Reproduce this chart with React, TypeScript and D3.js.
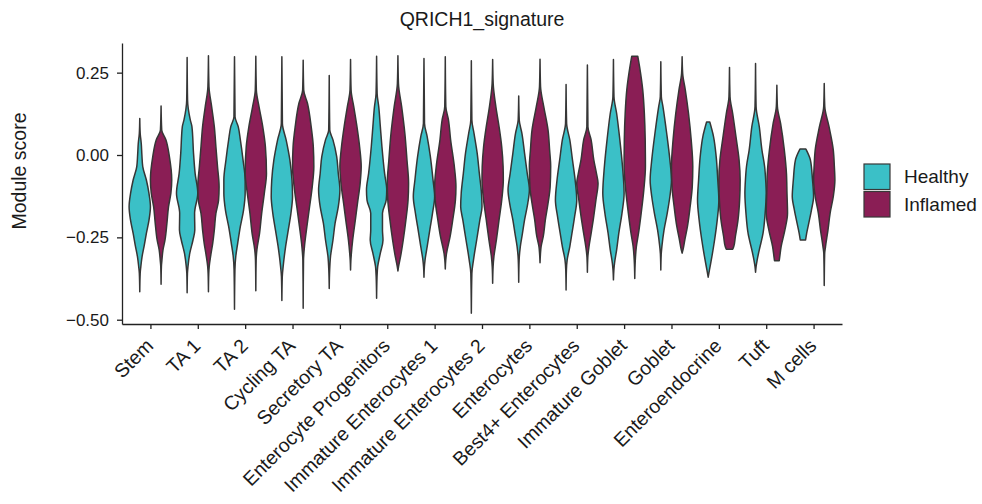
import React, { useEffect, useRef } from 'react';
import * as d3 from 'd3';

const categories = [
  'Stem', 'TA 1', 'TA 2', 'Cycling TA', 'Secretory TA', 'Enterocyte Progenitors',
  'Immature Enterocytes 1', 'Immature Enterocytes 2', 'Enterocytes', 'Best4+ Enterocytes',
  'Immature Goblet', 'Goblet', 'Enteroendocrine', 'Tuft', 'M cells',
];
const groups = ['Healthy', 'Inflamed'];
const groupColors = ['#3bc0c7', '#8a1e55'];
const yTicks = [0.25, 0, -0.25, -0.5];

// violin outlines: [module score, relative width], top to bottom
const healthy: [number, number][][] = [
  [[0.111, 0], [0.066, 0.04], [0.035, 0.14], [0.0, 0.2], [-0.035, 0.28], [-0.076, 0.62], [-0.116, 0.86], [-0.157, 1], [-0.197, 0.87], [-0.238, 0.62], [-0.278, 0.4], [-0.308, 0.22], [-0.339, 0.1], [-0.359, 0.04], [-0.415, 0]],
  [[0.296, 0], [0.167, 0.04], [0.106, 0.3], [0.086, 0.45], [0.005, 0.6], [-0.056, 0.75], [-0.116, 1], [-0.177, 0.7], [-0.228, 0.72], [-0.258, 0.55], [-0.298, 0.25], [-0.339, 0.08], [-0.359, 0.03], [-0.418, 0]],
  [[0.298, 0], [0.116, 0.05], [0.086, 0.35], [0.046, 0.55], [-0.015, 0.8], [-0.076, 1], [-0.116, 1], [-0.167, 0.85], [-0.217, 0.55], [-0.268, 0.3], [-0.308, 0.12], [-0.349, 0.04], [-0.468, 0]],
  [[0.298, 0], [0.096, 0.05], [0.046, 0.4], [-0.015, 0.75], [-0.076, 0.95], [-0.126, 1], [-0.177, 0.85], [-0.228, 0.6], [-0.278, 0.35], [-0.339, 0.12], [-0.369, 0.04], [-0.442, 0]],
  [[0.241, 0], [0.076, 0.05], [0.046, 0.35], [-0.005, 0.7], [-0.056, 0.85], [-0.106, 1], [-0.157, 0.85], [-0.207, 0.55], [-0.258, 0.35], [-0.308, 0.12], [-0.349, 0.04], [-0.405, 0]],
  [[0.3, 0], [0.187, 0.05], [0.147, 0.2], [0.086, 0.35], [0.025, 0.5], [-0.056, 0.75], [-0.106, 0.95], [-0.137, 0.9], [-0.177, 0.55], [-0.228, 0.55], [-0.258, 0.6], [-0.298, 0.35], [-0.339, 0.1], [-0.37, 0.04], [-0.435, 0]],
  [[0.293, 0], [0.096, 0.05], [0.056, 0.3], [-0.005, 0.6], [-0.076, 0.85], [-0.126, 1], [-0.177, 0.8], [-0.217, 0.6], [-0.278, 0.3], [-0.319, 0.1], [-0.339, 0.04], [-0.371, 0]],
  [[0.286, 0], [0.106, 0.05], [0.066, 0.25], [0.005, 0.55], [-0.056, 0.75], [-0.116, 0.95], [-0.157, 1], [-0.197, 0.8], [-0.258, 0.5], [-0.319, 0.2], [-0.359, 0.05], [-0.48, 0]],
  [[0.179, 0], [0.106, 0.05], [0.066, 0.3], [0.005, 0.55], [-0.056, 0.8], [-0.106, 1], [-0.147, 0.85], [-0.197, 0.55], [-0.238, 0.35], [-0.278, 0.15], [-0.319, 0.04], [-0.386, 0]],
  [[0.214, 0], [0.096, 0.05], [0.046, 0.35], [-0.015, 0.6], [-0.076, 0.85], [-0.137, 1], [-0.187, 0.8], [-0.238, 0.55], [-0.278, 0.35], [-0.319, 0.1], [-0.349, 0.03], [-0.41, 0]],
  [[0.29, 0], [0.177, 0.05], [0.126, 0.3], [0.046, 0.6], [-0.035, 0.85], [-0.116, 1], [-0.177, 0.8], [-0.238, 0.5], [-0.288, 0.3], [-0.329, 0.1], [-0.349, 0.04], [-0.379, 0]],
  [[0.283, 0], [0.177, 0.05], [0.147, 0.2], [0.066, 0.55], [-0.015, 0.85], [-0.076, 1], [-0.126, 0.85], [-0.177, 0.6], [-0.228, 0.3], [-0.278, 0.1], [-0.3, 0.04], [-0.349, 0]],
  [[0.1, 0.15], [0.056, 0.5], [-0.005, 0.75], [-0.076, 0.9], [-0.137, 1], [-0.197, 0.85], [-0.258, 0.6], [-0.308, 0.35], [-0.349, 0.12], [-0.371, 0]],
  [[0.278, 0], [0.147, 0.05], [0.086, 0.35], [0.015, 0.6], [-0.035, 0.85], [-0.076, 0.95], [-0.116, 1], [-0.177, 0.9], [-0.238, 0.7], [-0.288, 0.35], [-0.319, 0.15], [-0.339, 0.05], [-0.356, 0]],
  [[0.018, 0.28], [-0.015, 0.7], [-0.076, 0.9], [-0.126, 1], [-0.167, 0.8], [-0.207, 0.55], [-0.238, 0.35], [-0.258, 0.25]],
];

const inflamed: [number, number][][] = [
  [[0.149, 0], [0.076, 0.06], [0.046, 0.45], [-0.005, 0.78], [-0.076, 1], [-0.116, 0.92], [-0.157, 0.7], [-0.207, 0.55], [-0.258, 0.37], [-0.288, 0.18], [-0.319, 0.08], [-0.339, 0.03], [-0.392, 0]],
  [[0.301, 0], [0.207, 0.05], [0.147, 0.3], [0.086, 0.55], [0.025, 0.7], [-0.035, 0.85], [-0.096, 1], [-0.137, 0.95], [-0.177, 0.7], [-0.228, 0.55], [-0.268, 0.4], [-0.308, 0.2], [-0.339, 0.07], [-0.36, 0.03], [-0.415, 0]],
  [[0.3, 0], [0.197, 0.05], [0.147, 0.3], [0.086, 0.65], [0.025, 0.9], [-0.056, 1], [-0.116, 0.8], [-0.177, 0.55], [-0.238, 0.35], [-0.288, 0.1], [-0.32, 0.03], [-0.412, 0]],
  [[0.288, 0], [0.197, 0.05], [0.157, 0.4], [0.086, 0.75], [0.025, 0.95], [-0.035, 1], [-0.096, 0.85], [-0.157, 0.6], [-0.217, 0.35], [-0.278, 0.12], [-0.32, 0.03], [-0.465, 0]],
  [[0.29, 0], [0.197, 0.05], [0.147, 0.3], [0.086, 0.6], [0.025, 0.85], [-0.035, 1], [-0.086, 0.9], [-0.147, 0.65], [-0.197, 0.45], [-0.258, 0.2], [-0.298, 0.08], [-0.32, 0.03], [-0.349, 0]],
  [[0.301, 0], [0.217, 0.05], [0.147, 0.35], [0.066, 0.65], [-0.015, 0.85], [-0.086, 1], [-0.137, 0.95], [-0.197, 0.75], [-0.258, 0.5], [-0.308, 0.25], [-0.339, 0.06], [-0.352, 0]],
  [[0.298, 0], [0.147, 0.05], [0.106, 0.3], [0.046, 0.5], [-0.035, 0.85], [-0.096, 1], [-0.137, 0.95], [-0.197, 0.7], [-0.248, 0.45], [-0.298, 0.12], [-0.32, 0.04], [-0.346, 0]],
  [[0.29, 0], [0.217, 0.05], [0.147, 0.3], [0.086, 0.6], [0.025, 0.85], [-0.035, 0.98], [-0.076, 1], [-0.137, 0.85], [-0.197, 0.6], [-0.258, 0.35], [-0.308, 0.12], [-0.34, 0.04], [-0.389, 0]],
  [[0.291, 0], [0.207, 0.05], [0.147, 0.35], [0.076, 0.75], [0.015, 0.9], [-0.035, 1], [-0.096, 0.95], [-0.147, 0.75], [-0.197, 0.5], [-0.248, 0.3], [-0.278, 0.1], [-0.3, 0.04], [-0.327, 0]],
  [[0.273, 0], [0.086, 0.05], [0.046, 0.35], [-0.015, 0.6], [-0.056, 0.85], [-0.086, 1], [-0.137, 0.8], [-0.197, 0.55], [-0.238, 0.35], [-0.278, 0.15], [-0.31, 0.04], [-0.356, 0]],
  [[0.3, 0.28], [0.268, 0.45], [0.197, 0.75], [0.126, 0.9], [0.046, 0.98], [-0.035, 1], [-0.106, 0.85], [-0.177, 0.6], [-0.238, 0.35], [-0.278, 0.15], [-0.319, 0.05], [-0.375, 0]],
  [[0.298, 0], [0.248, 0.05], [0.197, 0.3], [0.126, 0.6], [0.046, 0.85], [-0.035, 1], [-0.096, 0.95], [-0.157, 0.75], [-0.217, 0.5], [-0.258, 0.25], [-0.288, 0.08], [-0.298, 0]],
  [[0.266, 0], [0.177, 0.05], [0.126, 0.3], [0.046, 0.65], [-0.015, 0.9], [-0.076, 1], [-0.137, 0.95], [-0.197, 0.8], [-0.248, 0.55], [-0.278, 0.4], [-0.286, 0.3]],
  [[0.212, 0], [0.147, 0.05], [0.096, 0.35], [0.015, 0.7], [-0.056, 0.9], [-0.116, 0.95], [-0.177, 1], [-0.228, 0.75], [-0.278, 0.4], [-0.314, 0.25], [-0.321, 0.22]],
  [[0.217, 0], [0.147, 0.05], [0.086, 0.45], [0.015, 0.85], [-0.035, 0.95], [-0.076, 1], [-0.126, 0.85], [-0.177, 0.55], [-0.228, 0.35], [-0.278, 0.12], [-0.3, 0.04], [-0.396, 0]],
];

export default function App() {
  const ref = useRef<SVGSVGElement>(null);

  useEffect(() => {
    const svg = d3.select(ref.current);
    svg.selectAll('*').remove();
    const font = "'Liberation Sans', Arial, sans-serif";

    const x = d3.scaleLinear().domain([-0.6, categories.length - 0.4]).range([122, 842]);
    const y = d3.scaleLinear().domain([-0.513, 0.34]).range([324, 43]);
    const offset = 0.225;
    const halfWidth = 0.225;

    const series = [healthy, inflamed];
    series.forEach((profiles, g) => {
      profiles.forEach((pts, i) => {
        const cx = i + (g === 0 ? -offset : offset);
        const area = d3
          .area<[number, number]>()
          .y(d => y(d[0]))
          .x0(d => x(cx - d[1] * halfWidth))
          .x1(d => x(cx + d[1] * halfWidth))
          .curve(d3.curveMonotoneY);
        svg
          .append('path')
          .attr('d', area(pts))
          .attr('fill', groupColors[g])
          .attr('stroke', '#363636')
          .attr('stroke-width', 1.5)
          .attr('stroke-linejoin', 'round');
      });
    });

    const yAxis = svg
      .append('g')
      .attr('transform', `translate(${x(-0.6)},0)`)
      .call(d3.axisLeft(y).tickValues(yTicks).tickFormat(d3.format('.2f')).tickSize(5).tickSizeOuter(0).tickPadding(8));
    yAxis.selectAll('text').attr('font-size', 17).attr('font-family', font).attr('fill', '#1a1a1a');

    const xAxis = svg
      .append('g')
      .attr('transform', `translate(0,${y(-0.513)})`)
      .call(d3.axisBottom(x).tickValues(d3.range(categories.length)).tickSize(5).tickSizeOuter(0));
    xAxis.selectAll('text').remove();
    svg.selectAll('.domain, .tick line').attr('stroke', '#222').attr('stroke-width', 1.3);

    svg
      .append('g')
      .selectAll('text')
      .data(categories)
      .join('text')
      .attr('transform', (d, i) => `translate(${x(i) + 4},${347}) rotate(-45)`)
      .attr('text-anchor', 'end')
      .attr('font-family', font)
      .attr('font-size', 19.5)
      .attr('fill', '#1a1a1a')
      .text(d => d);

    svg
      .append('text')
      .attr('x', (x(-0.6) + x(categories.length - 0.4)) / 2)
      .attr('y', 26)
      .attr('text-anchor', 'middle')
      .attr('font-family', font)
      .attr('font-size', 19.5)
      .attr('fill', '#1a1a1a')
      .text('QRICH1_signature');

    svg
      .append('text')
      .attr('transform', 'translate(26,171) rotate(-90)')
      .attr('text-anchor', 'middle')
      .attr('font-family', font)
      .attr('font-size', 19.5)
      .attr('fill', '#1a1a1a')
      .text('Module score');

    const legend = svg.append('g').attr('transform', 'translate(864,164)');
    groups.forEach((name, g) => {
      legend
        .append('rect')
        .attr('x', 0)
        .attr('y', g * 27.5)
        .attr('width', 26)
        .attr('height', 25.5)
        .attr('fill', groupColors[g])
        .attr('stroke', '#383838')
        .attr('stroke-width', 1.2);
      legend
        .append('text')
        .attr('x', 40)
        .attr('y', g * 27.5 + 19)
        .attr('font-family', font)
        .attr('font-size', 19)
        .attr('fill', '#1a1a1a')
        .text(name);
    });
  }, []);

  return (
    <svg
      ref={ref}
      width={982}
      height={504}
      style={{ position: 'absolute', left: 0, top: 0, background: '#fff' }}
    />
  );
}
